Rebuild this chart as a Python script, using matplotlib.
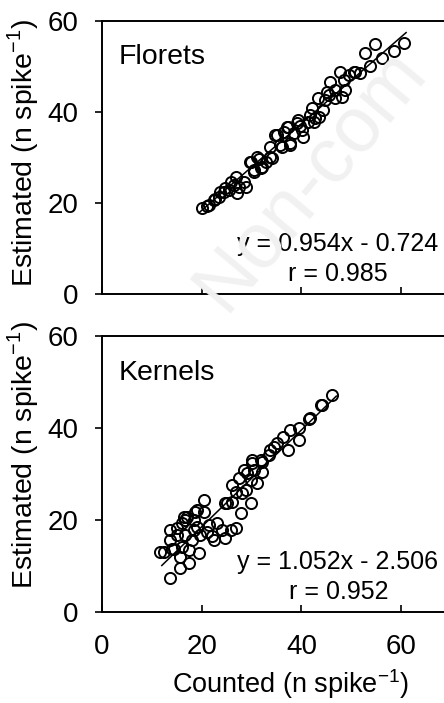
import numpy as np
import matplotlib
matplotlib.use("Agg")
import matplotlib.pyplot as plt

plt.rcParams['font.family'] = ['Liberation Sans', 'DejaVu Sans']
plt.rcParams['mathtext.fontset'] = 'custom'
plt.rcParams['mathtext.rm'] = 'Liberation Sans'

# Florets: counted vs estimated
florets_counted = [20.1, 21.1, 21.4, 22.4, 22.7, 23.4, 23.7, 24.4, 24.7, 25.4, 25.8, 26.4,
                   26.8, 27.4, 27.1, 28.8, 28.4, 29.6, 29.8, 30.4, 30.4, 31.1, 31.8, 32.1,
                   32.8, 33.8, 33.8, 34.1, 34.8, 35.1, 35.8, 36.1, 37.1, 37.4, 37.8, 37.8,
                   38.5, 39.1, 39.4, 40.1, 40.4, 41.4, 41.8, 42.1, 42.5, 42.8, 43.4, 43.5,
                   44.4, 44.8, 45.1, 45.5, 45.8, 46.8, 46.8, 47.8, 48.1, 48.5, 48.8, 49.5,
                   50.5, 50.8, 51.8, 52.7, 53.8, 54.8, 56.2, 58.5, 60.6, 36.5, 39.8, 31.5]
florets_estimated = [18.8, 19.3, 19.6, 20.7, 20.9, 21.4, 22.3, 22.3, 23.2, 22.9, 24.7, 24.0,
                     25.8, 23.6, 22.1, 23.6, 24.7, 29.1, 29.1, 26.9, 27.3, 30.2, 27.6, 28.0,
                     29.1, 32.4, 30.2, 29.8, 34.9, 34.9, 32.7, 32.4, 36.8, 36.8, 33.1, 32.7,
                     35.3, 37.5, 38.2, 36.0, 34.6, 37.9, 39.3, 40.8, 37.9, 38.6, 43.0, 39.0,
                     40.4, 42.6, 44.5, 43.7, 46.7, 43.0, 44.8, 48.9, 43.4, 47.0, 44.8, 48.1,
                     48.9, 48.8, 48.5, 52.9, 50.1, 54.9, 51.8, 53.5, 55.2, 35.5, 37.0, 29.6]

# Kernels: counted vs estimated
kernels_counted = [46.1, 43.9, 41.6, 39.6, 39.6, 37.8, 37.4, 36.3, 35.1, 33.8, 33.4, 31.8,
                   30.1, 32.1, 30.4, 28.4, 29.8, 27.4, 26.1, 26.8, 28.1, 29.8, 27.8, 24.7,
                   26.1, 20.4, 19.1, 20.4, 17.1, 18.4, 16.1, 15.1, 18.4, 21.1, 23.1, 24.1,
                   26.8, 24.7, 22.4, 19.7, 16.7, 13.7, 12.4, 14.1, 16.1, 18.1, 17.4, 15.7,
                   19.4, 17.4, 15.7, 13.7, 15.1, 16.4, 11.7, 14.4, 13.7, 16.7, 18.7, 25.1,
                   25.8, 29.1, 30.1, 32.1, 41.8, 44.1, 31.0, 28.8, 22.0, 19.0, 21.5, 34.5]
kernels_estimated = [47.2, 45.0, 41.9, 39.9, 37.4, 39.6, 35.2, 38.0, 36.7, 35.2, 34.1, 33.0,
                     33.0, 30.5, 30.9, 30.9, 28.7, 29.1, 27.6, 26.2, 25.8, 23.6, 21.5, 23.6,
                     24.0, 24.3, 22.2, 21.8, 20.7, 20.0, 19.3, 18.2, 17.8, 17.5, 19.3, 17.8,
                     18.2, 16.0, 15.7, 16.7, 16.7, 15.7, 13.1, 13.8, 14.2, 15.7, 13.5, 12.0,
                     12.8, 10.6, 9.5, 7.3, 16.7, 20.7, 13.1, 13.8, 17.8, 20.0, 21.8, 23.6,
                     17.8, 30.2, 32.3, 32.7, 42.1, 45.0, 28.0, 26.5, 16.5, 18.5, 19.0, 35.8]

panels = [
    dict(name='Florets', x=florets_counted, y=florets_estimated,
         slope=0.954, icpt=-0.724, r=0.985, xfit=(19.5, 61.0),
         pos=[0.2297, 0.582, 0.786, 0.388]),
    dict(name='Kernels', x=kernels_counted, y=kernels_estimated,
         slope=1.052, icpt=-2.506, r=0.952, xfit=(12.0, 47.0),
         pos=[0.2297, 0.1294, 0.786, 0.3926]),
]

fig = plt.figure(figsize=(4.44, 7.03), dpi=100)

# faint watermark
fig.text(0.70, 0.745, 'Non-com', fontsize=56, color='#f1f1f1', rotation=50,
         ha='center', va='center', zorder=0)

for i, p in enumerate(panels):
    ax = fig.add_axes(p['pos'])
    ax.patch.set_alpha(0)
    xf = np.array(p['xfit'])
    ax.plot(xf, p['slope'] * xf + p['icpt'], color='black', lw=1.1, zorder=2)
    ax.plot(p['x'], p['y'], 'o', ms=8, mfc='none', mec='black', mew=1.4, zorder=3)

    ax.set_xlim(0, 70)
    ax.set_ylim(0, 60)
    ax.set_xticks([0, 20, 40, 60])
    ax.set_yticks([0, 20, 40, 60])
    ax.tick_params(axis='y', direction='out', length=5, width=1.2, pad=12, labelsize=20)
    ax.tick_params(axis='x', direction='in', length=5, width=1.2, pad=16, labelsize=20)
    for s in ax.spines.values():
        s.set_linewidth(1.4)

    ax.text(3.3, 52, p['name'], fontsize=20.5, ha='left', va='center')
    sign = '-' if p['icpt'] < 0 else '+'
    ax.text(47.2, 10.9, f"y = {p['slope']:.3f}x {sign} {abs(p['icpt']):.3f}",
            fontsize=18, ha='center', va='center')
    ax.text(47.4, 4.4, f"r = {p['r']:.3f}", fontsize=18, ha='center', va='center')

    ax.set_ylabel(r'Estimated (n spike$^{\mathregular{-1}}$)', fontsize=20.5)
    if i == 0:
        ax.tick_params(axis='x', labelbottom=False)
        ax.yaxis.set_label_coords(-0.175, 0.516)
    else:
        ax.yaxis.set_label_coords(-0.175, 0.569)
        ax.set_xlabel(r'Counted (n spike$^{\mathregular{-1}}$)', fontsize=19.5)
        ax.xaxis.set_label_coords(0.54, -0.2)

fig.savefig('out.png', dpi=100)
